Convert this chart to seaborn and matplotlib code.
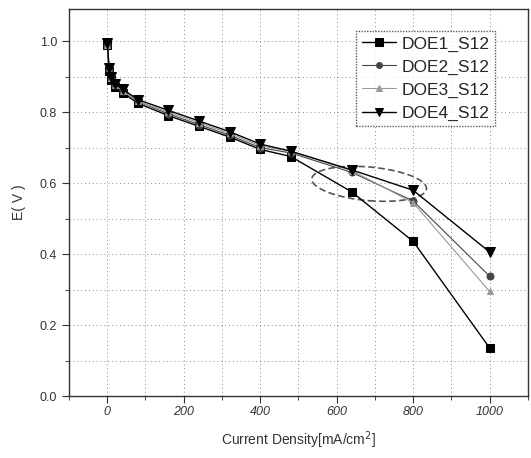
import pandas as pd
import numpy as np
import matplotlib
matplotlib.use("Agg")
import matplotlib.pyplot as plt
import seaborn as sns
from matplotlib.patches import Ellipse
from matplotlib.ticker import MultipleLocator

# polarization data
current = [0, 5, 10, 20, 40, 80, 160, 240, 320, 400, 480, 640, 800, 1000]
doe1 = [0.99, 0.915, 0.89, 0.87, 0.855, 0.825, 0.79, 0.76, 0.73, 0.695, 0.675, 0.575, 0.436, 0.136]
doe2 = [0.99, 0.92, 0.895, 0.875, 0.86, 0.83, 0.795, 0.765, 0.735, 0.70, 0.685, 0.63, 0.55, 0.338]
doe3 = [0.99, 0.92, 0.895, 0.875, 0.86, 0.83, 0.80, 0.77, 0.74, 0.705, 0.69, 0.635, 0.545, 0.295]
doe4 = [0.995, 0.925, 0.90, 0.88, 0.865, 0.835, 0.805, 0.775, 0.745, 0.71, 0.69, 0.637, 0.58, 0.406]

series = {"DOE1_S12": doe1, "DOE2_S12": doe2, "DOE3_S12": doe3, "DOE4_S12": doe4}
styles = {
    "DOE1_S12": dict(color="black", marker="s", lw=1.0, ms=6),
    "DOE2_S12": dict(color="#444444", marker="o", lw=0.8, ms=5),
    "DOE3_S12": dict(color="#999999", marker="^", lw=0.8, ms=5),
    "DOE4_S12": dict(color="black", marker="v", lw=1.0, ms=7),
}

rows = []
for name, vals in series.items():
    for x, y in zip(current, vals):
        rows.append({"current": x, "E": y, "sample": name})
df = pd.DataFrame(rows)

sns.set_style("ticks")
plt.rcParams["font.family"] = ["Liberation Sans", "DejaVu Sans"]

fig = plt.figure(figsize=(5.31, 4.58), dpi=100)
ax = fig.add_axes([0.130, 0.135, 0.864, 0.845])

for name in series:
    st = styles[name]
    sns.lineplot(data=df[df["sample"] == name], x="current", y="E", ax=ax,
                 color=st["color"], marker=st["marker"], linewidth=st["lw"],
                 markersize=st["ms"], markeredgecolor=st["color"],
                 label=name, sort=False)

# dashed ellipse highlighting the divergence
ell = Ellipse((685, 0.598), 300, 0.095, angle=-0.005, fill=False,
              linestyle=(0, (4, 2)), edgecolor="#555555", linewidth=1.2)
ax.add_patch(ell)

ax.set_xlim(-100, 1100)
ax.set_ylim(0, 1.09)
ax.xaxis.set_major_locator(MultipleLocator(200))
ax.xaxis.set_minor_locator(MultipleLocator(100))
ax.yaxis.set_major_locator(MultipleLocator(0.2))
ax.yaxis.set_minor_locator(MultipleLocator(0.1))
ax.yaxis.set_major_formatter(matplotlib.ticker.FormatStrFormatter("%.1f"))
ax.grid(True, which="both", linestyle=(0, (1, 3)), color="#888888", linewidth=0.7)
ax.tick_params(which="major", direction="out", length=5, labelsize=9, colors="#333333")
ax.tick_params(axis="x", which="major", pad=2)
ax.tick_params(which="minor", direction="out", length=3)
for lbl in ax.get_xticklabels():
    lbl.set_fontstyle("italic")
for sp in ax.spines.values():
    sp.set_color("#333333")
    sp.set_linewidth(1.0)

ax.set_xlabel("Current Density[mA/cm$^2$]", fontsize=10, color="#333333", labelpad=8)
ax.set_ylabel("E( V )", fontsize=10, color="#333333", labelpad=10)

leg = ax.legend(loc="upper right", bbox_to_anchor=(0.947, 0.966), fontsize=12.5,
                frameon=True, fancybox=False, edgecolor="#333333",
                handlelength=2.0, borderpad=0.3, labelspacing=0.45, handletextpad=0.3,
                markerscale=0.85)
leg.get_frame().set_linestyle((0, (1, 1)))

fig.savefig("out.png", dpi=100)
